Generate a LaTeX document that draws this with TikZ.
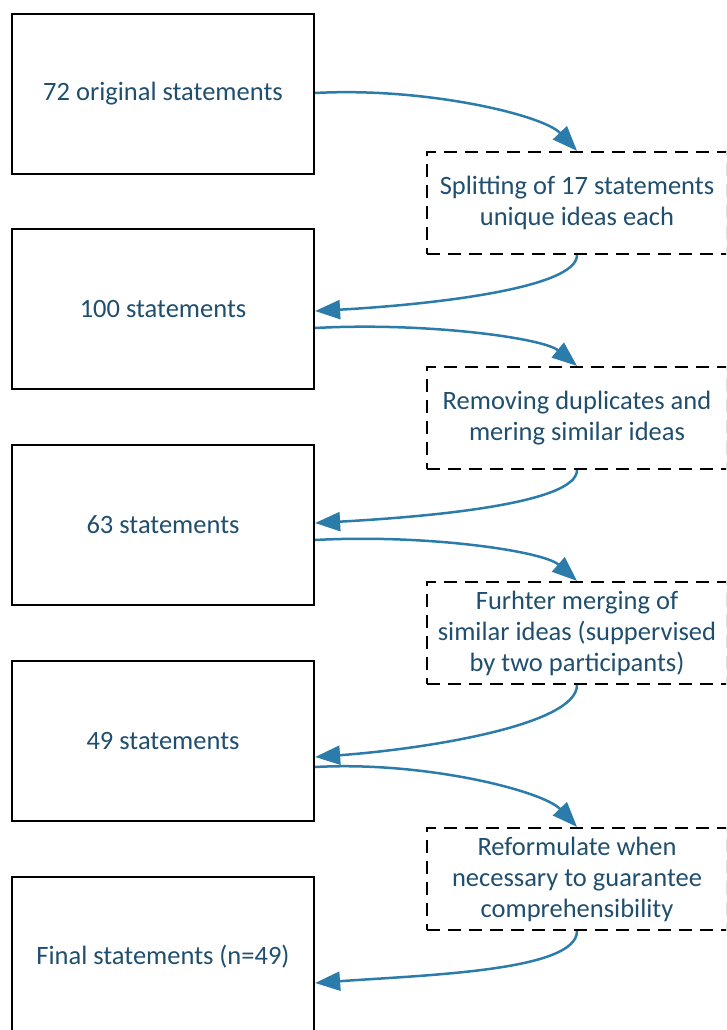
\documentclass[tikz,border=0pt]{standalone}
\usepackage{fontspec}
\setmainfont{Carlito}
\usepackage{tikz}
\usetikzlibrary{arrows.meta}
\usepackage{xcolor}
\definecolor{txtblue}{HTML}{1F4E6E}
\definecolor{arrblue}{HTML}{2B7BAB}

\begin{document}
\begin{tikzpicture}[x=1pt,y=-1pt,
  >={Triangle[length=25pt,width=19pt]},
  stagebox/.style={draw,line width=2.2pt,minimum width=302pt,minimum height=160pt,text=txtblue,font=\fontsize{26.5}{31}\selectfont,align=center},
  taskbox/.style={draw,line width=2.2pt,dash pattern=on 13pt off 8pt,minimum width=300pt,minimum height=102pt,text=txtblue,font=\fontsize{26.5}{31}\selectfont,align=center},
  flow/.style={->,arrblue,line width=2.5pt}]
\useasboundingbox (0,0) rectangle (726,1030);
\clip (0,0) rectangle (726,1030);
\node[stagebox] (s1) at (163,94) {72 original statements};
\node[stagebox] (s2) at (163,309) {100 statements};
\node[stagebox] (s3) at (163,525) {63 statements};
\node[stagebox] (s4) at (163,741) {49 statements};
\node[stagebox,anchor=north] (s5) at (163,876) {};
\node[txtblue,font=\fontsize{26.5}{31}\selectfont] (s5t) at (163,957) {Final statements (n=49)};
\node[taskbox] (t1) at (577,203) {Splitting of 17 statements\\unique ideas each};
\node[taskbox] (t2) at (577,418) {Removing duplicates and\\mering similar ideas};
\node[taskbox] (t3) at (577,633) {Furhter merging of\\similar ideas (suppervised\\by two participants)};
\node[taskbox] (t4) at (577,879) {Reformulate when\\necessary to guarantee\\comprehensibility};
% flow between stages
\draw[flow] ([yshift=1pt]s1.east) .. controls +(110,-6) and +(-34,-36) .. (t1.north);
\draw[flow] (t1.south) .. controls +(0,34) and +(110,-6) .. ([yshift=-2pt]s2.east);
\draw[flow] ([yshift=-19pt]s2.east) .. controls +(110,-6) and +(-34,-28) .. (t2.north);
\draw[flow] (t2.south) .. controls +(0,34) and +(110,-6) .. ([yshift=2pt]s3.east);
\draw[flow] ([yshift=-15pt]s3.east) .. controls +(110,-6) and +(-34,-30) .. (t3.north);
\draw[flow] (t3.south) .. controls +(0,40) and +(110,-8) .. ([yshift=-16pt]s4.east);
\draw[flow] ([yshift=-26pt]s4.east) .. controls +(110,-6) and +(-34,-36) .. (t4.north);
\draw[flow] (t4.south) .. controls +(0,40) and +(110,-8) .. ([yshift=-107pt]s5.north east);
\end{tikzpicture}
\end{document}
